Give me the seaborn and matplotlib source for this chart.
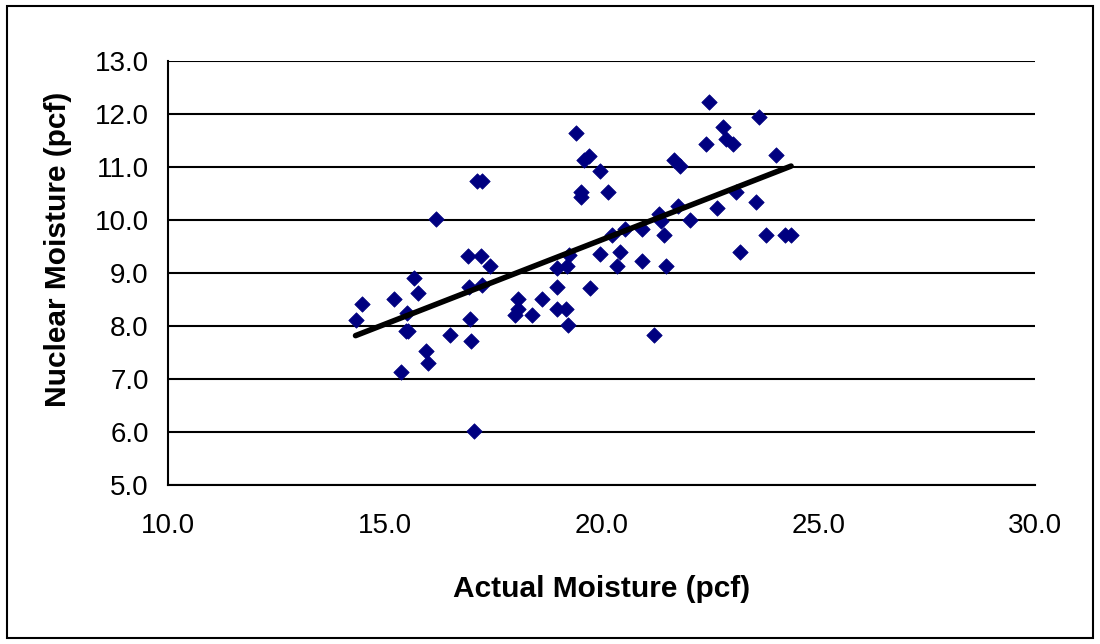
import numpy as np
import pandas as pd
import matplotlib
matplotlib.use("Agg")
import matplotlib.pyplot as plt
import seaborn as sns
from matplotlib.patches import Rectangle

# values
actual = [14.32, 14.46, 15.21, 15.38, 15.49, 15.54, 15.51, 15.67, 15.77, 15.94,
          16.00, 16.17, 16.50, 16.92, 16.94, 16.96, 16.99, 17.06, 17.12, 17.23,
          17.22, 17.23, 17.42, 18.00, 18.06, 18.06, 18.40, 18.62, 18.98, 18.98,
          18.98, 19.17, 19.21, 19.23, 19.25, 19.40, 19.52, 19.52, 19.60, 19.70,
          19.73, 19.96, 19.96, 20.15, 20.24, 20.36, 20.42, 20.54, 20.92, 20.94,
          21.21, 21.33, 21.37, 21.44, 21.48, 21.67, 21.75, 21.81, 22.04, 22.41,
          22.48, 22.67, 22.81, 22.87, 23.04, 23.10, 23.18, 23.56, 23.64, 23.79,
          24.02, 24.24, 24.37]
nuclear = [8.11, 8.42, 8.51, 7.12, 7.90, 7.90, 8.24, 8.90, 8.62, 7.52,
           7.29, 10.01, 7.82, 9.32, 8.74, 8.12, 7.71, 6.01, 10.72, 10.72,
           9.32, 8.76, 9.12, 8.21, 8.31, 8.51, 8.21, 8.51, 8.73, 8.32,
           9.09, 8.32, 9.12, 8.01, 9.34, 11.63, 10.52, 10.42, 11.12, 11.20,
           8.71, 10.91, 9.35, 10.53, 9.72, 9.12, 9.40, 9.82, 9.22, 9.82,
           7.82, 10.11, 9.97, 9.72, 9.13, 11.13, 10.25, 11.01, 10.00, 11.43,
           12.22, 10.22, 11.74, 11.52, 11.43, 10.53, 9.40, 10.34, 11.93, 9.72,
           11.22, 9.72, 9.72]

x_ticks = [10.0, 15.0, 20.0, 25.0, 30.0]
y_ticks = [5.0, 6.0, 7.0, 8.0, 9.0, 10.0, 11.0, 12.0, 13.0]

df = pd.DataFrame({"actual": actual, "nuclear": nuclear})

# linear trendline over the data range
slope, icpt = np.polyfit(df["actual"], df["nuclear"], 1)
fit = pd.DataFrame({"actual": [df["actual"].min(), df["actual"].max()]})
fit["nuclear"] = slope * fit["actual"] + icpt

sns.set_style("white")
plt.rcParams['font.family'] = ['Liberation Sans', 'DejaVu Sans']
plt.rcParams['text.color'] = 'black'
plt.rcParams['axes.labelcolor'] = 'black'
plt.rcParams['xtick.color'] = 'black'
plt.rcParams['ytick.color'] = 'black'

fig = plt.figure(figsize=(11, 6.44), dpi=100)
ax = fig.add_axes([0.153, 0.247, 0.788, 0.659])

sns.scatterplot(data=df, x="actual", y="nuclear", marker="D", s=62,
                color="#000080", edgecolor="#000080", linewidth=0.5, ax=ax, zorder=3)
sns.lineplot(data=fit, x="actual", y="nuclear", color="black", linewidth=4,
             ax=ax, zorder=4)

ax.set_xlim(10, 30)
ax.set_ylim(5, 13)
ax.set_xticks(x_ticks)
ax.set_yticks(y_ticks)
ax.set_xticklabels([f"{v:.1f}" for v in x_ticks])
ax.set_yticklabels([f"{v:.1f}" for v in y_ticks])
ax.tick_params(axis="both", labelsize=20, direction="out", length=6, width=1.5,
               color="black", labelcolor="black", pad=8)
ax.tick_params(axis="x", pad=14)
ax.yaxis.grid(True, color="black", linewidth=1.5)
ax.xaxis.grid(False)
ax.set_axisbelow(True)
for side in ["top", "right"]:
    ax.spines[side].set_visible(False)
for side in ["left", "bottom"]:
    ax.spines[side].set_color("black")
    ax.spines[side].set_linewidth(1.5)

ax.set_xlabel("Actual Moisture (pcf)", fontsize=21.5, fontweight="bold", labelpad=26)
ax.set_ylabel("Nuclear Moisture (pcf)", fontsize=21.5, fontweight="bold")
ax.yaxis.set_label_coords(-0.111, 0.554)

# outer chart border
fig.patches.append(Rectangle((0.006, 0.01), 0.988, 0.98, transform=fig.transFigure,
                             fill=False, edgecolor="black", linewidth=1.5))

fig.savefig("out.png", dpi=100)
